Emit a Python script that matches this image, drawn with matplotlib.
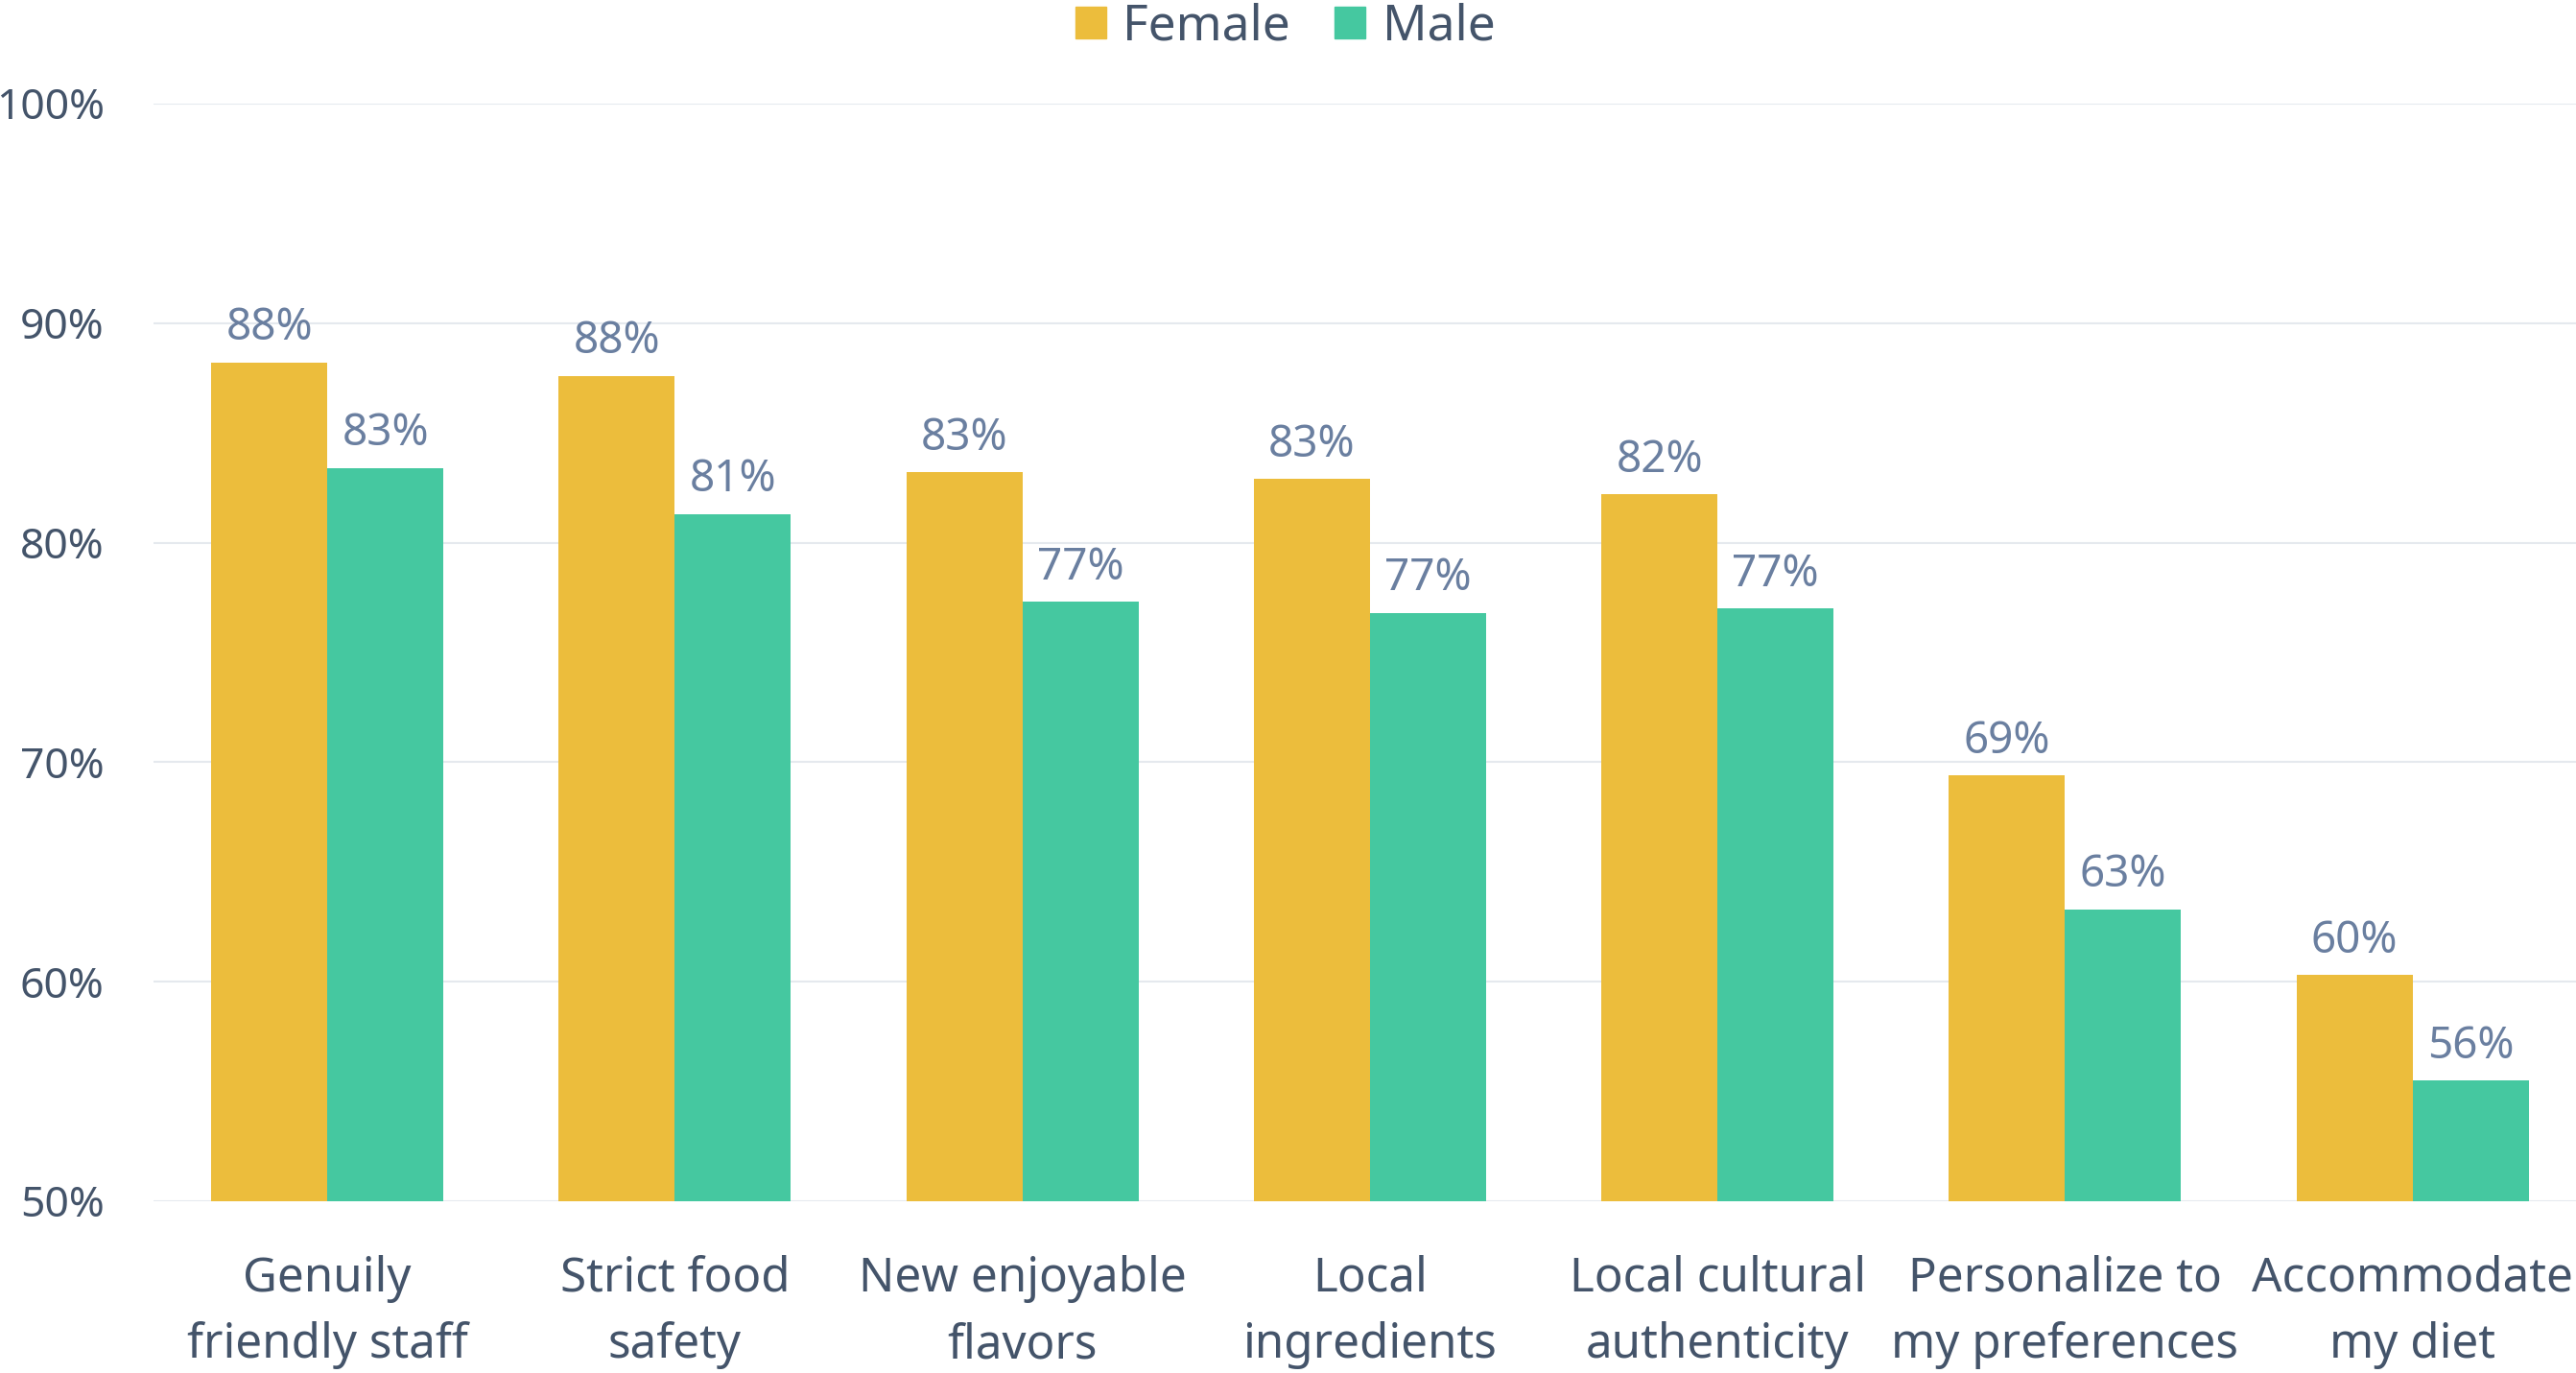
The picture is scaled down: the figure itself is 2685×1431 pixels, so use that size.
import numpy as np
import matplotlib
matplotlib.use('Agg')
import matplotlib.pyplot as plt
from matplotlib.patches import Patch

categories = ["Genuily\nfriendly staff", "Strict food\nsafety", "New enjoyable\nflavors",
              "Local\ningredients", "Local cultural\nauthenticity", "Personalize to\nmy preferences",
              "Accommodate\nmy diet"]
female = [88.2, 87.6, 83.2, 82.9, 82.2, 69.4, 60.3]
male = [83.4, 81.3, 77.3, 76.8, 77.0, 63.3, 55.5]
yticks = [50, 60, 70, 80, 90, 100]

FEMALE_COLOR = '#ECBD3C'
MALE_COLOR = '#45C8A0'
TEXT_COLOR = '#44546A'
LABEL_COLOR = '#6A7FA0'
GRID_COLOR = '#E5E9EE'

plt.rcParams['font.family'] = ['Noto Sans', 'DejaVu Sans']

W, H = 2685, 1431
fig = plt.figure(figsize=(W / 100, H / 100), dpi=100, facecolor='white')
ax = fig.add_axes([160 / W, 1 - 1252 / H, 1 - 160 / W, (1252 - 108) / H])

x = np.arange(len(categories))
bw = 0.334
b1 = ax.bar(x - bw / 2, female, bw, bottom=0, color=FEMALE_COLOR, zorder=2)
b2 = ax.bar(x + bw / 2, male, bw, bottom=0, color=MALE_COLOR, zorder=2)

# value labels above each bar
for bars, vals in ((b1, female), (b2, male)):
    for rect, v in zip(bars, vals):
        ax.annotate(f'{v:.0f}%', (rect.get_x() + rect.get_width() / 2, v),
                    xytext=(0, 17), textcoords='offset points',
                    ha='center', va='baseline', fontsize=33, color=LABEL_COLOR)

ax.set_ylim(50, 100)
ax.set_xlim(-0.5, 6.47)
ax.set_yticks(yticks)
ax.set_yticklabels([f'{t}%' for t in yticks])
ax.set_xticks(x)
ax.set_xticklabels(categories, linespacing=1.52)
ax.tick_params(axis='y', length=0, pad=37, labelsize=32, labelcolor=TEXT_COLOR)
ax.tick_params(axis='x', length=0, pad=40, labelsize=35.5, labelcolor=TEXT_COLOR)

ax.grid(axis='y', color=GRID_COLOR, linewidth=1.5, zorder=0)
ax.set_axisbelow(True)
for s in ax.spines.values():
    s.set_visible(False)

handles = [Patch(color=FEMALE_COLOR, label='Female'), Patch(color=MALE_COLOR, label='Male')]
leg = fig.legend(handles=handles, loc='center', bbox_to_anchor=(0.499, 1 - 28 / H), ncol=2,
                 frameon=False, fontsize=37, handlelength=0.62, handleheight=0.62,
                 handletextpad=0.34, columnspacing=0.9, borderpad=0)
for t in leg.get_texts():
    t.set_color(TEXT_COLOR)

fig.savefig('out.png', dpi=100, facecolor='white')
